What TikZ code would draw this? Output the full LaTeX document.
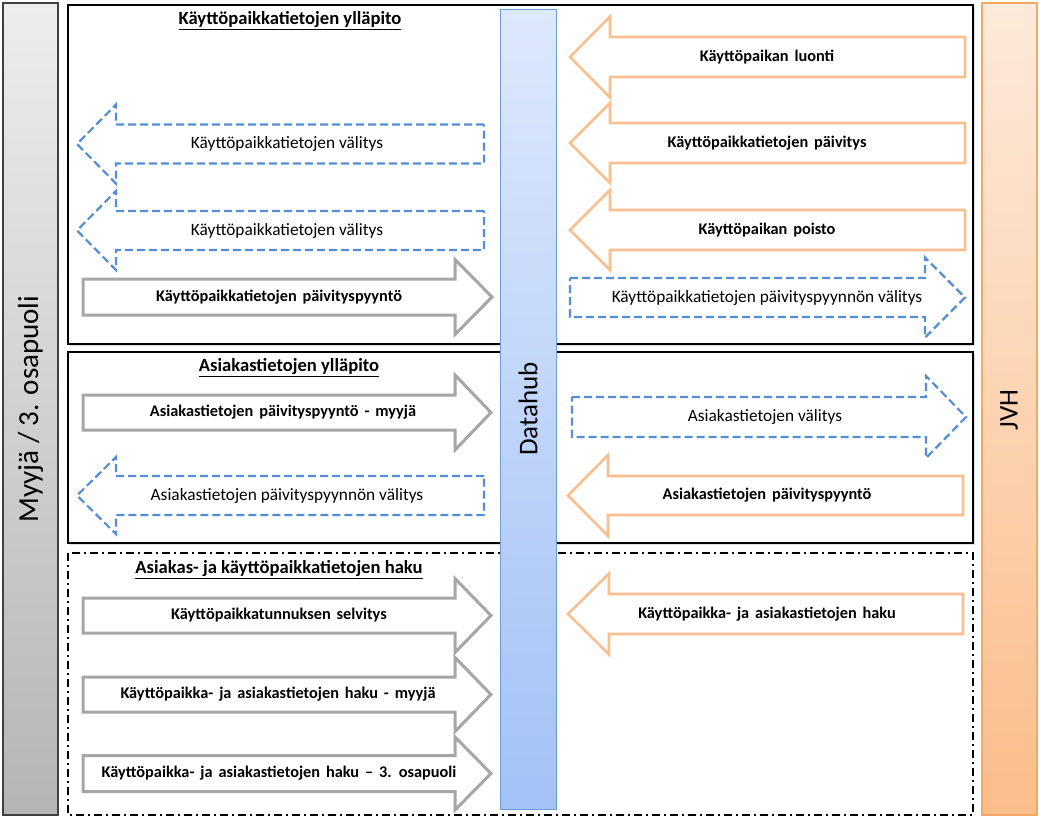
\documentclass[tikz,border=0pt]{standalone}
\usepackage{fontspec}
\setmainfont{Carlito}
\newfontfamily\widelbl[WordSpace=1.6]{Carlito}
\usetikzlibrary{shadows}
\definecolor{arrgray}{HTML}{A6A6A6}
\definecolor{arrorange}{HTML}{F9BF8F}
\definecolor{arrblue}{HTML}{558ED5}
\definecolor{dhtop}{HTML}{DDE8FC}
\definecolor{dhbot}{HTML}{A3C2F6}
\definecolor{dhline}{HTML}{6F9AD8}
\definecolor{jvtop}{HTML}{FDEADA}
\definecolor{jvbot}{HTML}{FBBD8B}
\definecolor{jvline}{HTML}{F5A866}
\definecolor{mytop}{HTML}{EDEDED}
\definecolor{mybot}{HTML}{B5B5B5}
\newcommand\flowarrow[7]{\draw[#1] (#2,{#5-#6}) -- (#3,{#5-#6}) -- (#3,{#5-#7}) -- (#4,#5) -- (#3,{#5+#7}) -- (#3,{#5+#6}) -- (#2,{#5+#6}) -- cycle;}
\tikzset{
  grayarr/.style={draw=arrgray, line width=3pt, fill=white, miter limit=10},
  orarr/.style={draw=arrorange, line width=2.6pt, fill=white, miter limit=10},
  bluarr/.style={draw=arrblue, line width=2.2pt, dash pattern=on 8pt off 4pt, fill=white},
  boldlbl/.style={font=\widelbl\bfseries\fontsize{16.3}{18}\selectfont, inner sep=0pt},
  reglbl/.style={font=\fontsize{17.3}{19}\selectfont, inner sep=0pt},
  titlelbl/.style={font=\bfseries\fontsize{18.6}{21}\selectfont, inner sep=0pt},
  vlbl/.style={rotate=90, font=\fontsize{27}{30}\selectfont, inner sep=0pt},
  groupbox/.style={draw=black, line width=2.5pt, fill=white, drop shadow={shadow xshift=2pt, shadow yshift=-2pt, opacity=0.25}},
  dashbox/.style={draw=black, line width=2pt, dash pattern=on 8pt off 4pt on 2pt off 4pt, fill=white},
  mybar/.style={draw=black!75, line width=1.5pt, top color=mytop, bottom color=mybot},
  dhbar/.style={draw=dhline, line width=1pt, top color=dhtop, bottom color=dhbot},
  jvbar/.style={draw=jvline, line width=1.2pt, top color=jvtop, bottom color=jvbot},
}
\begin{document}
\begin{tikzpicture}[x=1pt,y=-1pt]
\fill[white] (0,0) rectangle (1040,819);
\useasboundingbox (0,0) rectangle (1040,819);

% side bars
\draw[mybar] (3,3) rectangle (58,815);
\node[vlbl, font=\fontsize{29}{32}\selectfont] (myyja) at (30.5,409) {Myyjä / 3. osapuoli};
\draw[jvbar] (982,3) rectangle (1037,815);
\node[vlbl] (jvh) at (1009,410) {JVH};

% group boxes
\draw[groupbox] (68,5) rectangle (973,344);
\draw[groupbox] (68,352) rectangle (973,543);
\draw[dashbox] (68,553) rectangle (973,815);

% datahub
\draw[dhbar] (500,9) rectangle (556,809);
\node[vlbl] (datahub) at (528,409) {Datahub};

% titles
\node[titlelbl] (t1) at (290,21) {\underline{Käyttöpaikkatietojen ylläpito}};
\node[titlelbl] (t2) at (289,368) {\underline{Asiakastietojen ylläpito}};
\node[titlelbl] (t3) at (279,570) {\underline{Asiakas- ja käyttöpaikkatietojen haku}};

% --- group 1, left side
\flowarrow{bluarr}{484}{116}{77}{144}{19.5}{39.5}
\node[reglbl] (b1) at (287,144) {Käyttöpaikkatietojen välitys};
\flowarrow{bluarr}{484}{116}{77}{230.5}{19.5}{39.5}
\node[reglbl] (b2) at (287,230.5) {Käyttöpaikkatietojen välitys};
\flowarrow{grayarr}{83}{455}{492}{297}{18}{37.5}
\node[boldlbl] (g1) at (279,297) {Käyttöpaikkatietojen päivityspyyntö};

% --- group 1, right side
\flowarrow{orarr}{965}{610}{570}{57}{20}{40.5}
\node[boldlbl] (o1) at (767,57) {Käyttöpaikan luonti};
\flowarrow{orarr}{965}{610}{570}{143}{20}{40}
\node[boldlbl] (o2) at (767,143) {Käyttöpaikkatietojen päivitys};
\flowarrow{orarr}{965}{610}{570}{230}{20}{40}
\node[boldlbl] (o3) at (767,230) {Käyttöpaikan poisto};
\flowarrow{bluarr}{570}{925}{965}{297.5}{19.5}{40}
\node[reglbl] (b3) at (767,297.5) {Käyttöpaikkatietojen päivityspyynnön välitys};

% --- group 2
\flowarrow{grayarr}{83}{455}{491}{412.5}{17.5}{37.5}
\node[boldlbl] (g2) at (283,412.5) {Asiakastietojen päivityspyyntö - myyjä};
\flowarrow{bluarr}{484}{116}{77}{495.5}{19.5}{38.5}
\node[reglbl] (b4) at (287,495.5) {Asiakastietojen päivityspyynnön välitys};
\flowarrow{bluarr}{572}{926}{966}{417}{20}{41}
\node[reglbl] (b5) at (765,417) {Asiakastietojen välitys};
\flowarrow{orarr}{963}{608}{568}{495.5}{19.5}{40.5}
\node[boldlbl] (o4) at (767,495.5) {Asiakastietojen päivityspyyntö};

% --- group 3
\flowarrow{grayarr}{83}{455}{491}{615.5}{17.5}{37}
\node[boldlbl] (g3) at (279,615.5) {Käyttöpaikkatunnuksen selvitys};
\flowarrow{grayarr}{83}{455}{491}{694.5}{17.5}{37}
\node[boldlbl] (g4) at (278,694.5) {Käyttöpaikka- ja asiakastietojen haku - myyjä};
\flowarrow{grayarr}{83}{455}{491}{773.5}{18}{36.5}
\node[boldlbl] (g5) at (279,773.5) {Käyttöpaikka- ja asiakastietojen haku – 3. osapuoli};
\flowarrow{orarr}{963}{609}{568}{614}{20}{40.5}
\node[boldlbl] (o5) at (767,614) {Käyttöpaikka- ja asiakastietojen haku};
\end{tikzpicture}
\end{document}
